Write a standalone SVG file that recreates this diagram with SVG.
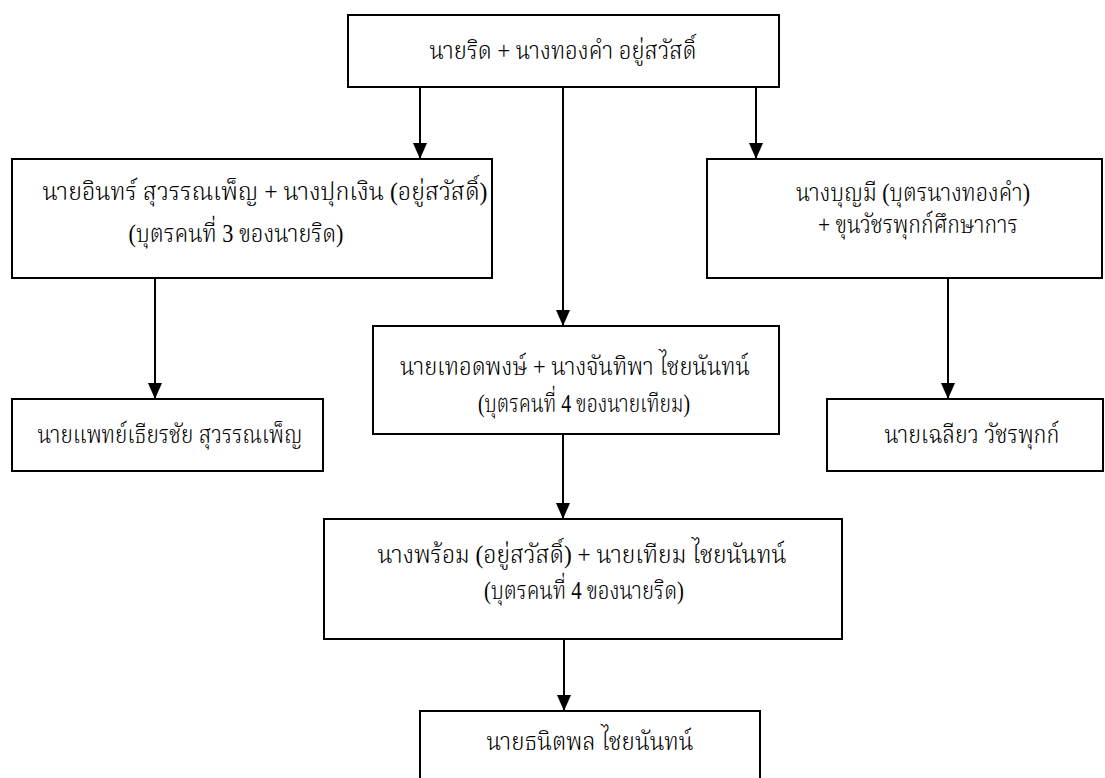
<svg xmlns="http://www.w3.org/2000/svg" width="1105" height="778" viewBox="0 0 1105 778">
<defs>
<marker id="ah" markerWidth="16" markerHeight="14" refX="16" refY="7" orient="auto" markerUnits="userSpaceOnUse">
<path d="M0,0 L16,7 L0,14 Z" fill="#000"/>
</marker>
<style>
.box{fill:#fff;stroke:#000;stroke-width:2}
.t{font-family:"Liberation Serif","Norasi","Kinnari","Noto Serif Thai","TH Sarabun New","Angsana New","Noto Sans Thai",serif;font-size:25px;font-weight:300;fill:#000;text-anchor:middle}
.ln{stroke:#000;stroke-width:2;fill:none}
</style>
</defs>
<rect width="1105" height="778" fill="#fff"/>
<g id="connectors">
<line class="ln" x1="420" y1="87" x2="420" y2="159" marker-end="url(#ah)"/>
<line class="ln" x1="563" y1="87" x2="563" y2="326" marker-end="url(#ah)"/>
<line class="ln" x1="756" y1="87" x2="756" y2="159" marker-end="url(#ah)"/>
<line class="ln" x1="155" y1="278" x2="155" y2="399" marker-end="url(#ah)"/>
<line class="ln" x1="948" y1="278" x2="948" y2="399" marker-end="url(#ah)"/>
<line class="ln" x1="563" y1="434" x2="563" y2="519" marker-end="url(#ah)"/>
<line class="ln" x1="564" y1="639" x2="564" y2="711" marker-end="url(#ah)"/>
</g>
<g id="n1"><rect class="box" x="348" y="15" width="431" height="72"/><text class="t" x="563" y="59" textLength="267" lengthAdjust="spacingAndGlyphs">นายริด + นางทองคำ  อยู่สวัสดิ์</text></g>
<g id="n2"><rect class="box" x="12" y="159" width="480" height="119"/><text class="t" x="265" y="200" textLength="445" lengthAdjust="spacingAndGlyphs">นายอินทร์  สุวรรณเพ็ญ + นางปุกเงิน  (อยู่สวัสดิ์)</text><text class="t" x="236" y="242" textLength="215" lengthAdjust="spacingAndGlyphs">(บุตรคนที่  3  ของนายริด)</text></g>
<g id="n3"><rect class="box" x="707" y="159" width="395" height="119"/><text class="t" x="913" y="201" textLength="234" lengthAdjust="spacingAndGlyphs">นางบุญมี  (บุตรนางทองคำ)</text><text class="t" x="918" y="233" textLength="200" lengthAdjust="spacingAndGlyphs">+ ขุนวัชรพุกก์ศึกษาการ</text></g>
<g id="n4"><rect class="box" x="373" y="326" width="406" height="108"/><text class="t" x="575" y="375" textLength="350" lengthAdjust="spacingAndGlyphs">นายเทอดพงษ์ + นางจันทิพา  ไชยนันทน์</text><text class="t" x="584" y="412" textLength="212" lengthAdjust="spacingAndGlyphs">(บุตรคนที่  4  ของนายเทียม)</text></g>
<g id="n5"><rect class="box" x="12" y="399" width="311" height="72"/><text class="t" x="170" y="443" textLength="265" lengthAdjust="spacingAndGlyphs">นายแพทย์เธียรชัย  สุวรรณเพ็ญ</text></g>
<g id="n6"><rect class="box" x="827" y="399" width="276" height="72"/><text class="t" x="972" y="443" textLength="175" lengthAdjust="spacingAndGlyphs">นายเฉลียว  วัชรพุกก์</text></g>
<g id="n7"><rect class="box" x="324" y="519" width="518" height="120"/><text class="t" x="582" y="563" textLength="409" lengthAdjust="spacingAndGlyphs">นางพร้อม (อยู่สวัสดิ์) + นายเทียม  ไชยนันทน์</text><text class="t" x="584" y="599" textLength="200" lengthAdjust="spacingAndGlyphs">(บุตรคนที่ 4 ของนายริด)</text></g>
<g id="n8"><rect class="box" x="420" y="711" width="340" height="80"/><text class="t" x="590" y="750" textLength="207" lengthAdjust="spacingAndGlyphs">นายธนิตพล  ไชยนันทน์</text></g>
</svg>
